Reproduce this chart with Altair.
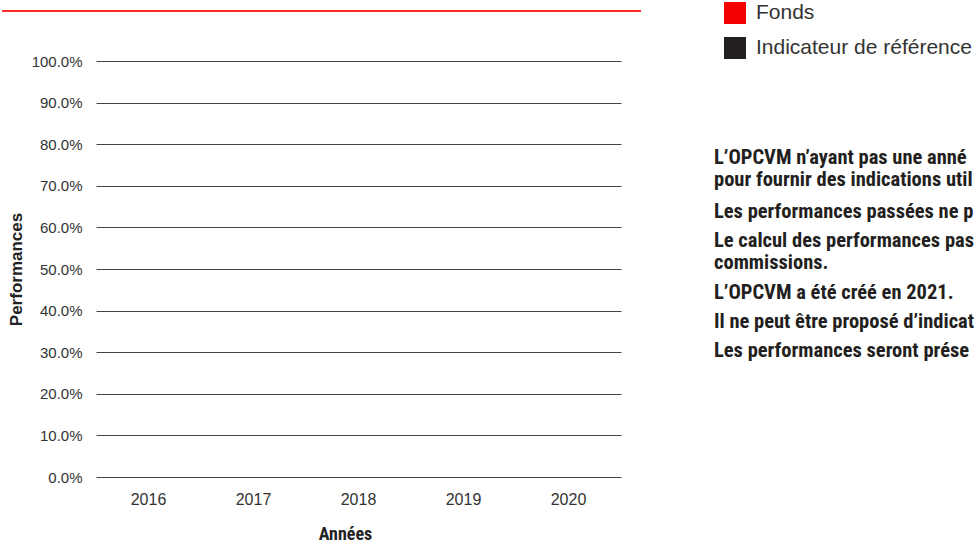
import altair as alt
import pandas as pd

# ---- data ----
years = ["2016", "2017", "2018", "2019", "2020"]
series = ["Fonds", "Indicateur de référence"]
fonds_values = [None, None, None, None, None]       # no performance data (fund created 2021)
indicateur_values = [None, None, None, None, None]  # no benchmark available
series_colors = ["#f40000", "#231f20"]

y_ticks = [0.0, 0.1, 0.2, 0.3, 0.4, 0.5, 0.6, 0.7, 0.8, 0.9, 1.0]

notes = [
    "L’OPCVM n’ayant pas une année complète d’existence, les données sont insuffisantes",
    "pour fournir des indications utiles sur les performances passées.",
    "Les performances passées ne préjugent pas des performances futures.",
    "Le calcul des performances passées tient compte de l’ensemble des frais et",
    "commissions.",
    "L’OPCVM a été créé en 2021.",
    "Il ne peut être proposé d’indicateur de référence pertinent pour cet OPCVM.",
    "Les performances seront présentées à l’issue d’une année complète.",
]

rows = []
for y, f, i in zip(years, fonds_values, indicateur_values):
    rows.append({"Année": y, "Série": series[0], "Performance": f})
    rows.append({"Année": y, "Série": series[1], "Performance": i})
df = pd.DataFrame(rows)

FONT = "Liberation Sans"
NARROW = "Roboto Condensed, Liberation Sans Narrow, DejaVu Sans Condensed, sans-serif"

PLOT_W, PLOT_H = 525, 416
LEFT, TOP = 96, 61

bars = alt.Chart(df).mark_bar().encode(
    x=alt.X("Année:N", sort=years,
            scale=alt.Scale(domain=years, paddingOuter=0, paddingInner=0),
            axis=alt.Axis(title="Années", labelAngle=0, ticks=False, domain=False,
                          labelFont=FONT, labelFontSize=16, labelColor="#333333",
                          labelPadding=14,
                          titleFont=NARROW, titleFontSize=18, titleFontWeight="bold",
                          titleColor="#222222", titleX=249, titleY=57,
                          titleBaseline="middle")),
    xOffset=alt.XOffset("Série:N", sort=series),
    y=alt.Y("Performance:Q",
            scale=alt.Scale(domain=[0, 1], nice=False),
            axis=alt.Axis(title="Performances", format=".1%", values=y_ticks,
                          ticks=False, domain=False, grid=True,
                          gridColor="#444444", gridWidth=1,
                          labelFont=FONT, labelFontSize=15, labelColor="#333333",
                          labelPadding=14,
                          titleFont=FONT, titleFontSize=17, titleFontWeight="bold",
                          titleColor="#222222", titlePadding=6)),
    color=alt.Color("Série:N",
                    scale=alt.Scale(domain=series, range=series_colors),
                    legend=alt.Legend(title=None, orient="none",
                                      legendX=628, legendY=-59,
                                      symbolType="square", symbolSize=484,
                                      symbolStrokeWidth=0, symbolOpacity=1,
                                      labelFont=FONT, labelFontSize=21,
                                      labelColor="#333333", labelOffset=10,
                                      rowPadding=13, padding=0,
                                      labelLimit=400)),
)

red_rule = alt.Chart(pd.DataFrame({"k": [0]})).mark_rule(
    color="#ff2b2b", strokeWidth=2
).encode(x=alt.value(2 - LEFT), x2=alt.value(641 - LEFT), y=alt.value(11 - TOP))

note_y = [158, 180, 212, 241, 263, 293, 322, 351]
notes_df = pd.DataFrame({"txt": notes, "ypos": [v - TOP for v in note_y]})
notes_layer = alt.Chart(notes_df).mark_text(
    align="left", baseline="middle", font=NARROW, fontSize=20.5,
    fontWeight="bold", color="#231f20", limit=261, ellipsis="\u200b"
).encode(
    x=alt.value(714 - LEFT),
    y=alt.Y("ypos:Q", scale=None, axis=None),
    text="txt:N",
)

chart = alt.layer(bars, red_rule, notes_layer).resolve_scale(y="independent").properties(
    width=PLOT_W, height=PLOT_H,
    autosize=alt.AutoSizeParams(type="none"),
    padding={"left": LEFT, "top": TOP, "right": 975 - LEFT - PLOT_W, "bottom": 542 - TOP - PLOT_H},
    background="white",
).configure_view(stroke=None)

chart.save("out.html", embed_options={"renderer": "svg", "actions": False})
